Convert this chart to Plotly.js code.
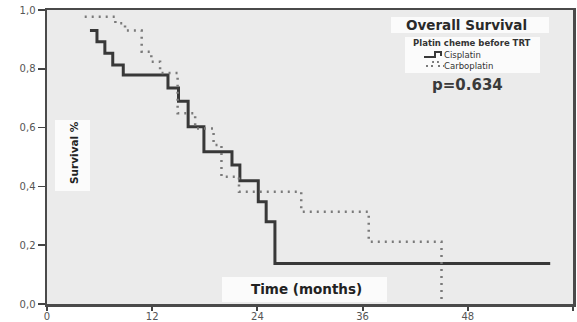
<!DOCTYPE html>
<html>
<head>
<meta charset="utf-8">
<script src="https://cdn.plot.ly/plotly-3.0.1.min.js"></script>
<style>html,body{margin:0;padding:0;background:#fff;}#chart{width:577px;height:322px;}</style>
</head>
<body>
<div id="chart"></div>
<script>
// Kaplan-Meier steps (months, survival)
const cisTime = [4.9, 5.7, 6.6, 7.5, 8.7, 13.8, 15.0, 16.1, 17.9, 21.1, 22.0, 24.1, 25.0, 26.0, 57.4];
const cisSurv = [0.930, 0.892, 0.853, 0.813, 0.779, 0.735, 0.690, 0.603, 0.518, 0.473, 0.419, 0.348, 0.280, 0.138, 0.138];
const carTime = [4.3, 7.8, 8.9, 10.8, 11.9, 12.9, 14.9, 16.9, 19.0, 19.9, 21.9, 29.0, 36.7, 45.0];
const carSurv = [0.977, 0.955, 0.930, 0.858, 0.824, 0.786, 0.649, 0.597, 0.541, 0.433, 0.382, 0.314, 0.212, 0.0];
const seriesNames = ['Cisplatin', 'Carboplatin'];
const xTickVals = [0, 12, 24, 36, 48, 60];
const xTickText = ['0', '12', '24', '36', '48', '60'];
const yTickVals = [0, 0.2, 0.4, 0.6, 0.8, 1.0];
const yTickText = ['0,0', '0,2', '0,4', '0,6', '0,8', '1,0'];
const chartTitle = 'Overall Survival';
const legendTitle = 'Platin cheme before TRT';
const pText = 'p=0.634';
const xTitle = 'Time (months)';
const yTitle = 'Survival %';

const W = 577, H = 322, L = 47, R = 4, T = 10, B = 18;
const pw = W - L - R, ph = H - T - B;
const px = v => (v - L) / pw;           // pixel x -> paper
const py = v => (H - B - v) / ph;       // pixel y -> paper

const traces = [
  {x: cisTime, y: cisSurv, name: seriesNames[0], mode: 'lines', line: {shape: 'hv', color: '#383838', width: 3}, showlegend: false, hoverinfo: 'skip'},
  {x: carTime, y: carSurv, name: seriesNames[1], mode: 'lines', line: {shape: 'hv', color: '#7a7a7a', width: 2.5, dash: '2px,5px'}, showlegend: false, hoverinfo: 'skip'}
];

const boxFill = '#fbfbfb';
const shapes = [
  {type: 'rect', xref: 'paper', yref: 'paper', x0: px(391), x1: px(549), y0: py(17), y1: py(33), fillcolor: boxFill, line: {width: 0}, layer: 'below'},
  {type: 'rect', xref: 'paper', yref: 'paper', x0: px(405), x1: px(540), y0: py(37), y1: py(73), fillcolor: boxFill, line: {width: 0}, layer: 'below'},
  {type: 'rect', xref: 'paper', yref: 'paper', x0: px(222), x1: px(387), y0: py(277), y1: py(302), fillcolor: boxFill, line: {width: 0}, layer: 'below'},
  {type: 'rect', xref: 'paper', yref: 'paper', x0: px(55), x1: px(90), y0: py(120), y1: py(191), fillcolor: boxFill, line: {width: 0}, layer: 'below'},
  // legend symbols
  {type: 'path', xref: 'paper', yref: 'paper', layer: 'above',
   path: `M ${px(424)} ${py(57)} L ${px(435)} ${py(57)} L ${px(435)} ${py(52)} L ${px(441)} ${py(52)} L ${px(441)} ${py(56)}`,
   line: {color: '#383838', width: 2}},
  {type: 'path', xref: 'paper', yref: 'paper', layer: 'above',
   path: `M ${px(426)} ${py(66)} L ${px(433)} ${py(66)} L ${px(433)} ${py(62)} L ${px(438)} ${py(62)} L ${px(438)} ${py(66)} L ${px(444)} ${py(66)}`,
   line: {color: '#7a7a7a', width: 1.8, dash: '2px,3px'}}
];

const F = 'DejaVu Sans, Verdana, sans-serif';
const annotations = [
  {text: '<b>' + chartTitle + '</b>', xref: 'paper', yref: 'paper', x: px(466), y: py(25), showarrow: false, xanchor: 'center', yanchor: 'middle', font: {family: F, size: 13.5, color: '#2a2a2a'}},
  {text: '<b>' + legendTitle + '</b>', xref: 'paper', yref: 'paper', x: px(472), y: py(43), showarrow: false, xanchor: 'center', yanchor: 'middle', font: {family: F, size: 8.5, color: '#333'}},
  {text: seriesNames.join('<br>'), xref: 'paper', yref: 'paper', x: px(443), y: py(61), showarrow: false, xanchor: 'left', yanchor: 'middle', align: 'left', borderpad: 0, font: {family: F, size: 8.5, color: '#333'}},
  {text: '<b>' + pText + '</b>', xref: 'paper', yref: 'paper', x: px(467), y: py(85), showarrow: false, xanchor: 'center', yanchor: 'middle', font: {family: F, size: 15, color: '#3a3a3a'}},
  {text: '<b>' + xTitle + '</b>', xref: 'paper', yref: 'paper', x: px(306), y: py(289), showarrow: false, xanchor: 'center', yanchor: 'middle', font: {family: F, size: 13.5, color: '#222'}},
  {text: '<b>' + yTitle + '</b>', xref: 'paper', yref: 'paper', x: px(74), y: py(153), showarrow: false, textangle: -90, xanchor: 'center', yanchor: 'middle', font: {family: F, size: 10.5, color: '#222'}}
];

const layout = {
  width: W, height: H,
  margin: {l: L, r: R, t: T, b: B, pad: 0},
  paper_bgcolor: '#ffffff',
  plot_bgcolor: '#ebebeb',
  showlegend: false,
  font: {family: F, size: 10, color: '#555'},
  xaxis: {
    range: [0, 60], tickvals: xTickVals, ticktext: xTickText,
    ticks: 'outside', ticklen: 4, tickwidth: 2, tickcolor: '#444',
    ticklabelstandoff: -3,
    showline: true, linecolor: '#4a4a4a', linewidth: 2.5, mirror: true,
    showgrid: false, zeroline: false, fixedrange: true,
    tickfont: {family: F, size: 10, color: '#555'}
  },
  yaxis: {
    range: [0, 1], tickvals: yTickVals, ticktext: yTickText,
    ticks: 'outside', ticklen: 7, tickwidth: 1.5, tickcolor: '#444',
    showline: true, linecolor: '#4a4a4a', linewidth: 2.5, mirror: true,
    showgrid: false, zeroline: false, fixedrange: true,
    tickfont: {family: F, size: 10, color: '#555'}
  },
  shapes: shapes,
  annotations: annotations
};

Plotly.newPlot('chart', traces, layout, {staticPlot: true, displayModeBar: false});
</script>
</body>
</html>
